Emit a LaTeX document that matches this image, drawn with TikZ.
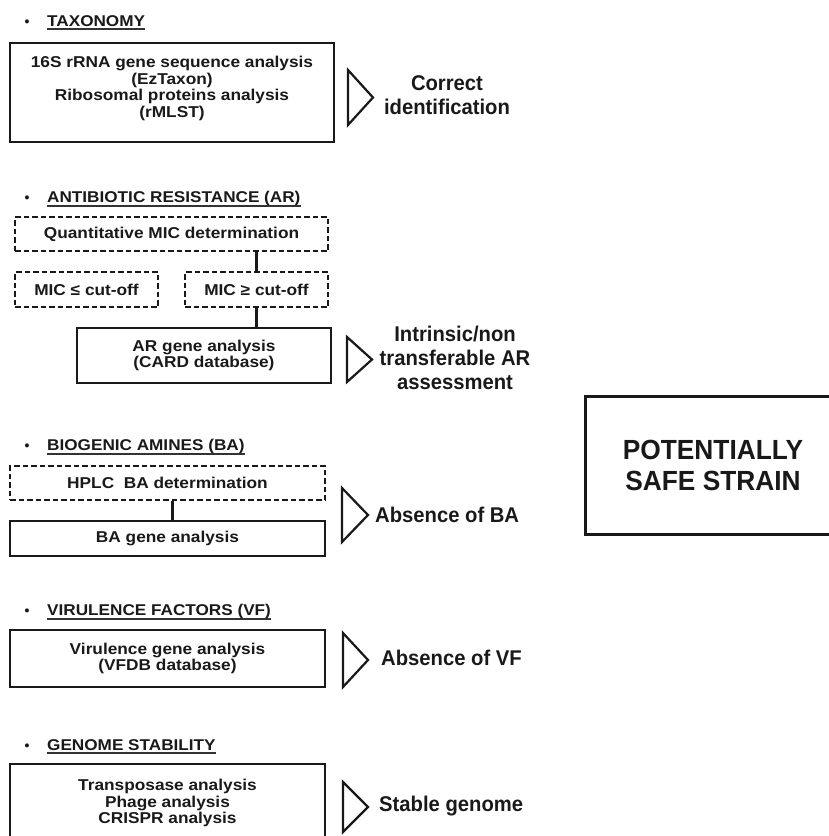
\documentclass[tikz,border=0pt]{standalone}
\usepackage{fontspec}
\setmainfont{Liberation Sans}
\newfontfamily\boxfont[FakeStretch=1.1]{Liberation Sans}
\newfontfamily\resfont[FakeStretch=0.95]{Liberation Sans}
\begin{document}
\begin{tikzpicture}[x=1pt,y=-1pt,
  solidbox/.style={draw=black!90, line width=2.2pt, inner sep=0pt, align=center,
    font=\boxfont\fontsize{15.7}{16.6}\selectfont\bfseries, text=black!90},
  dashbox/.style={solidbox, dash pattern=on 5.5pt off 3pt},
  head/.style={anchor=base west, inner sep=0pt, font=\boxfont\fontsize{15.6}{20}\selectfont\bfseries, text=black!90},
  bul/.style={anchor=base, inner sep=0pt, font=\fontsize{14}{20}\selectfont\bfseries, text=black!90},
  ul/.style={line width=1.5pt, black!80},
  res/.style={align=center, inner sep=0pt, font=\resfont\fontsize{21.3}{24}\selectfont\bfseries, text=black!90},
  tri/.style={line width=2.2pt, line join=miter, black!90},
  conn/.style={line width=2.2pt, black!90},
  bigbox/.style={draw=black!90, line width=3pt, inner sep=0pt, align=center,
    font=\resfont\fontsize{27.7}{31}\selectfont\bfseries, text=black!90}
]
\useasboundingbox (0,0) rectangle (829,836);

% ---------- TAXONOMY ----------
\node[bul] (b1) at (27,26) {•};
\node[head] (h1) at (47,26) {TAXONOMY};
\draw[ul] ([yshift=-3pt]h1.base west) -- ([yshift=-3pt]h1.base east);
\node[solidbox, minimum width=324pt, minimum height=99pt] (tax) at (172,92.5)
  {16S rRNA gene sequence analysis\\(EzTaxon)\\Ribosomal proteins analysis\\(rMLST)\\[-10pt]\strut};
\draw[tri] (348,70) -- (348,125) -- (373,97.5) -- cycle;
\node[res] (r1) at (447,95) {Correct\\identification};

% ---------- ANTIBIOTIC RESISTANCE ----------
\node[bul] (b2) at (27,202) {•};
\node[head] (h2) at (47,202) {ANTIBIOTIC RESISTANCE (AR)};
\draw[ul] ([yshift=-4pt]h2.base west) -- ([yshift=-4pt]h2.base east);
\node[dashbox, minimum width=313pt, minimum height=34pt] (mic) at (171.5,234) {Quantitative MIC determination};
\node[dashbox, minimum width=143pt, minimum height=35pt] (mle) at (86.5,289.5) {MIC ≤ cut-off};
\node[dashbox, minimum width=143pt, minimum height=35pt] (mge) at (256.5,289.5) {MIC ≥ cut-off};
\node[solidbox, minimum width=254pt, minimum height=55pt] (ar) at (204,355.5) {AR gene analysis\\(CARD database)};
\draw[conn] (mic.south -| mge.north) -- (mge.north);
\draw[conn] (mge.south) -- (ar.north -| mge.south);
\draw[tri] (347,337) -- (347,382) -- (372,359.5) -- cycle;
\node[res] (r2) at (455,358) {Intrinsic/non\\transferable AR\\assessment};

% ---------- BIOGENIC AMINES ----------
\node[bul] (b3) at (27,450) {•};
\node[head] (h3) at (47,450) {BIOGENIC AMINES (BA)};
\draw[ul] ([yshift=-4pt]h3.base west) -- ([yshift=-4pt]h3.base east);
\node[dashbox, minimum width=315pt, minimum height=34pt] (hplc) at (167.5,483) {HPLC\ \ BA determination};
\node[solidbox, minimum width=315pt, minimum height=35pt] (bag) at (167.5,538.5) {BA gene analysis};
\draw[conn] ([xshift=5pt]hplc.south) -- ([xshift=5pt]bag.north);
\draw[tri] (342,488) -- (342,542) -- (368,515) -- cycle;
\node[res, anchor=west] (r3) at (375,515) {Absence of BA};

% ---------- VIRULENCE FACTORS ----------
\node[bul] (b4) at (27,615) {•};
\node[head] (h4) at (47,615) {VIRULENCE FACTORS (VF)};
\draw[ul] ([yshift=-4pt]h4.base west) -- ([yshift=-4pt]h4.base east);
\node[solidbox, minimum width=315pt, minimum height=57pt] (vf) at (167.5,658.5) {Virulence gene analysis\\(VFDB database)};
\draw[tri] (343,633) -- (343,687) -- (368,660) -- cycle;
\node[res, anchor=west] (r4) at (381,658) {Absence of VF};

% ---------- GENOME STABILITY ----------
\node[bul] (b5) at (27,750) {•};
\node[head] (h5) at (47,750) {GENOME STABILITY};
\draw[ul] ([yshift=-3pt]h5.base west) -- ([yshift=-3pt]h5.base east);
\node[solidbox, minimum width=315pt, minimum height=78pt] (gs) at (167.5,803) {Transposase analysis\\Phage analysis\\CRISPR analysis};
\draw[tri] (343,782) -- (343,832) -- (368,807) -- cycle;
\node[res, anchor=west] (r5) at (379,806) {Stable genome};

% ---------- RESULT ----------
\node[bigbox, minimum width=256pt, minimum height=138pt] (safe) at (713,465) {POTENTIALLY\\SAFE STRAIN};
\end{tikzpicture}
\end{document}
